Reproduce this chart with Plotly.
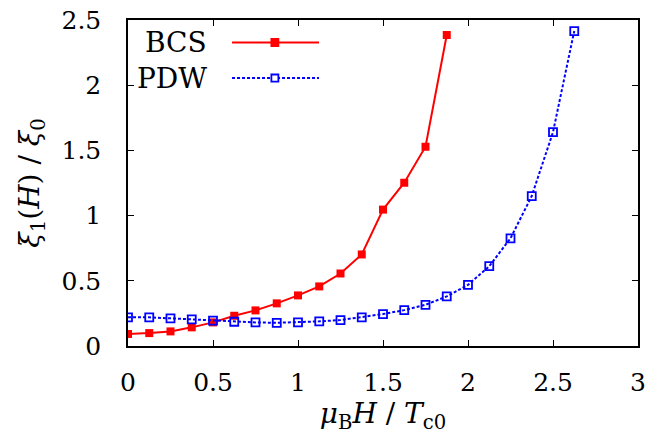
import plotly.graph_objects as go

bcs_x = [0, 0.125, 0.25, 0.375, 0.5, 0.625, 0.75, 0.875, 1.0, 1.125, 1.25, 1.375, 1.5, 1.625, 1.75, 1.875]
bcs_y = [0.092, 0.099, 0.112, 0.143, 0.181, 0.232, 0.273, 0.327, 0.388, 0.457, 0.556, 0.702, 1.046, 1.252, 1.528, 2.385]

pdw_x = [0, 0.125, 0.25, 0.375, 0.5, 0.625, 0.75, 0.875, 1.0, 1.125, 1.25, 1.375, 1.5, 1.625, 1.75,
         1.875, 2.0, 2.125, 2.25, 2.375, 2.5, 2.625]
pdw_y = [0.220, 0.220, 0.212, 0.204, 0.194, 0.186, 0.181, 0.178, 0.181, 0.189, 0.199, 0.220, 0.245,
         0.275, 0.316, 0.380, 0.469, 0.612, 0.826, 1.150, 1.640, 2.415]

x_ticks = [0, 0.5, 1, 1.5, 2, 2.5, 3]
x_ticklabels = ["0", "0.5", "1", "1.5", "2", "2.5", "3"]
y_ticks = [0, 0.5, 1, 1.5, 2, 2.5]
y_ticklabels = ["0", "0.5", "1", "1.5", "2", "2.5"]

RED = "#ff0000"
BLUE = "#0000ff"
FONT = "DejaVu Serif"

fig = go.Figure()
fig.add_trace(go.Scatter(x=bcs_x, y=bcs_y, mode="lines+markers", name="BCS",
                         line=dict(color=RED, width=2),
                         marker=dict(symbol="square", size=8, color=RED)))
fig.add_trace(go.Scatter(x=pdw_x, y=pdw_y, mode="lines+markers", name="PDW",
                         line=dict(color=BLUE, width=2, dash="3px,2px"),
                         marker=dict(symbol="square-open", size=8, color=BLUE,
                                     line=dict(width=1.8, color=BLUE))))

axis_common = dict(showgrid=False, zeroline=False, showline=True, linecolor="black",
                   linewidth=1.5, mirror="ticks", ticks="inside", ticklen=6,
                   tickcolor="black", tickwidth=1.2, automargin=False,
                   tickfont=dict(family=FONT, size=25, color="black"))

fig.update_xaxes(range=[0, 3], tickvals=x_ticks, ticktext=x_ticklabels,
                 ticklabelstandoff=13,
                 title=dict(text="<i>μ</i><sub>B</sub><i>H</i> / <i>T</i><sub>c0</sub>",
                            font=dict(family=FONT, size=28, color="black"), standoff=0),
                 **axis_common)
fig.update_yaxes(range=[0, 2.5], tickvals=y_ticks, ticktext=y_ticklabels,
                 ticklabelstandoff=20,
                 title=dict(text="<i>ξ</i><sub>1</sub>(<i>H</i>) / <i>ξ</i><sub>0</sub>",
                            font=dict(family=FONT, size=28, color="black"), standoff=14),
                 **axis_common)

legend_items = [("BCS", 0.931, RED, "solid", RED), ("PDW", 0.822, BLUE, "3px,2px", "white")]
for label, yp, col, dash, fill in legend_items:
    fig.add_annotation(text=label, xref="paper", yref="paper", x=0.158, y=yp,
                       xanchor="right", yanchor="middle", showarrow=False,
                       font=dict(family=FONT, size=28, color="black"))
    fig.add_shape(type="line", xref="paper", yref="paper", x0=0.204, x1=0.3745, y0=yp, y1=yp,
                  line=dict(color=col, width=2, dash=dash))
    fig.add_shape(type="rect", xref="paper", yref="paper",
                  x0=0.288 - 3.5 / 510, x1=0.288 + 3.5 / 510,
                  y0=yp - 3.5 / 325.5, y1=yp + 3.5 / 325.5,
                  line=dict(color=col, width=1.8), fillcolor=fill)

fig.update_layout(width=652, height=435, showlegend=False,
                  margin=dict(l=128, r=14, t=20, b=89),
                  plot_bgcolor="white", paper_bgcolor="white",
                  font=dict(family=FONT, color="black"))

fig.write_html("out.html", config={"displayModeBar": False},
               post_script="document.body.style.margin='0';document.body.style.overflow='hidden';")
